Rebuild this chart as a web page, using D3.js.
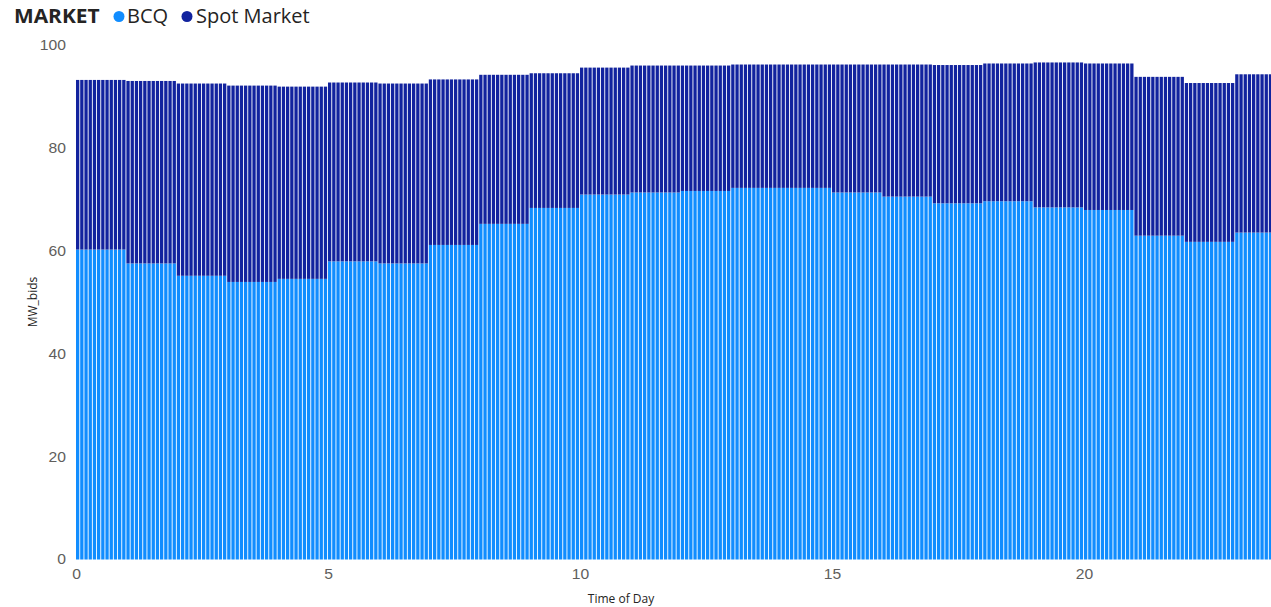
<!DOCTYPE html>
<html>
<head>
<meta charset="utf-8">
<script src="https://cdn.jsdelivr.net/npm/d3@7"></script>
<style>
  html, body { margin: 0; padding: 0; background: #fff; overflow: hidden; }
  svg { display: block; font-family: "Open Sans", "Noto Sans", sans-serif; }
</style>
</head>
<body>
<svg id="chart" width="1271" height="607"></svg>
<script>
// ---- data (hourly values, each hour shown as 12 five-minute bars) ----
const hours = [0,1,2,3,4,5,6,7,8,9,10,11,12,13,14,15,16,17,18,19,20,21,22,23];
const bcq  = [60.3,57.6,55.2,54.0,54.6,58.0,57.6,61.2,65.3,68.4,71.0,71.4,71.7,72.3,72.3,71.4,70.6,69.3,69.7,68.5,68.0,63.0,61.8,63.6];
const spot = [33.0,35.5,37.4,38.2,37.4,34.8,35.0,32.2,29.0,26.2,24.7,24.7,24.4,24.0,24.0,24.9,25.7,26.9,26.8,28.2,28.5,30.9,30.9,30.8];
const seriesNames = ["BCQ", "Spot Market"];
const yTicks = [0, 20, 40, 60, 80, 100];
const xTicks = [0, 5, 10, 15, 20];
const intervalsPerHour = 12;

const colors = { "BCQ": "#118DFF", "Spot Market": "#12239E" };

// expand to 5-minute rows (value repeated within its hour)
const rows = [];
hours.forEach((h, i) => {
  for (let k = 0; k < intervalsPerHour; k++) {
    rows.push({ t: h + k / intervalsPerHour, "BCQ": bcq[i], "Spot Market": spot[i] });
  }
});

const svg = d3.select("#chart");
const x = d3.scaleLinear().domain([0, 24]).range([76, 76 + 24 * 50.4]);
const y = d3.scaleLinear().domain([0, 100]).range([559.5, 45.5]);

const stack = d3.stack().keys(seriesNames);
const layers = stack(rows);

const barStep = x(1 / intervalsPerHour) - x(0);
const barW = barStep - 0.9;

const plot = svg.append("g");
plot.selectAll("g.layer")
  .data(layers)
  .join("g")
  .attr("class", "layer")
  .attr("fill", d => colors[d.key])
  .selectAll("rect")
  .data(d => d)
  .join("rect")
  .attr("x", d => x(d.data.t))
  .attr("width", barW)
  .attr("y", d => y(d[1]))
  .attr("height", d => y(d[0]) - y(d[1]));

// y axis
const yAxis = d3.axisLeft(y).tickValues(yTicks).tickSize(0).tickPadding(0);
const yg = svg.append("g").attr("transform", "translate(66,0)").call(yAxis);
yg.select(".domain").remove();
yg.selectAll("text").attr("fill", "#605E5C").style("font-size", "14px").attr("dy", "0.32em")
  .attr("transform", "scale(1.12,1)");

// x axis
const xAxis = d3.axisBottom(x).tickValues(xTicks).tickSize(0).tickPadding(0);
const xg = svg.append("g").attr("transform", "translate(0,569)").call(xAxis);
xg.select(".domain").remove();
xg.selectAll("text").attr("fill", "#605E5C").style("font-size", "14px").attr("dy", "0.71em")
  .attr("transform", "scale(1.12,1)");

// axis titles
svg.append("text")
  .attr("transform", "translate(37,302) rotate(-90)")
  .attr("text-anchor", "middle")
  .attr("fill", "#252423")
  .style("font-size", "12px")
  .text("MW_bids");

svg.append("text")
  .attr("x", 621).attr("y", 603)
  .attr("text-anchor", "middle")
  .attr("fill", "#252423")
  .style("font-size", "12px")
  .text("Time of Day");

// legend
const lg = svg.append("g").attr("transform", "translate(14,23)");
lg.append("text")
  .attr("x", 0).attr("y", 0)
  .attr("fill", "#252423")
  .style("font-size", "19px").style("font-weight", "bold")
  .attr("transform", "scale(1.1,1)")
  .text("MARKET");
const legendItems = [
  { name: "BCQ", cx: 105, tx: 113 },
  { name: "Spot Market", cx: 173, tx: 182 }
];
legendItems.forEach(it => {
  lg.append("circle").attr("cx", it.cx).attr("cy", -6.5).attr("r", 5.5).attr("fill", colors[it.name]);
  lg.append("text").attr("x", it.tx).attr("y", 0)
    .attr("fill", "#252423").style("font-size", "20px").text(it.name);
});
</script>
</body>
</html>
